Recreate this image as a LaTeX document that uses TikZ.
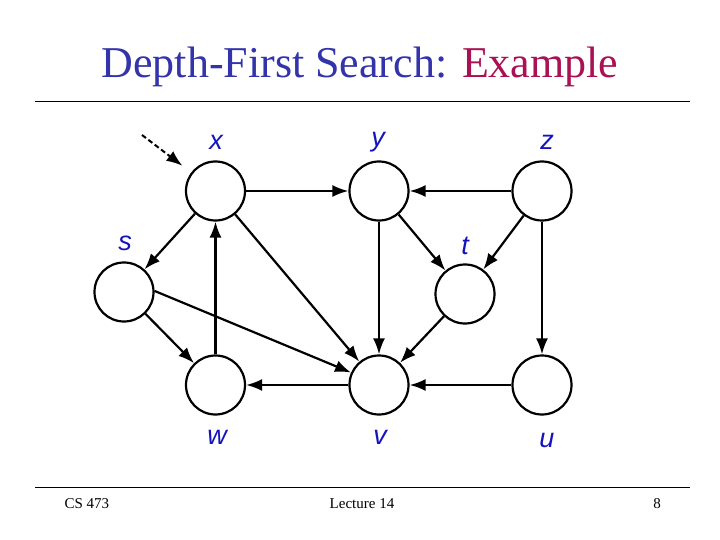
\documentclass[tikz,border=0pt]{standalone}
\usepackage{fontspec}
\setmainfont{Liberation Serif}
\newfontfamily\labelfont{Liberation Sans}
\usetikzlibrary{arrows.meta}
\definecolor{titleblue}{RGB}{51,51,170}
\definecolor{titlered}{RGB}{170,17,85}
\definecolor{labelblue}{RGB}{20,20,190}
\begin{document}
\begin{tikzpicture}[x=1pt, y=-1pt,
    vertex/.style={circle, draw, line width=2.2pt, minimum size=59pt, inner sep=0pt},
    vlabel/.style={font=\labelfont\itshape\fontsize{27}{27}\selectfont, text=labelblue},
    edge/.style={line width=2.2pt, -{Latex[length=16pt,width=12pt]}},
    every node/.style={font=\fontsize{15}{15}\selectfont}]
    \useasboundingbox (0,0) rectangle (720,540);

    % Titel und Linien
    \node[anchor=base, font=\fontsize{44}{44}\selectfont] (title) at (360,78)
        {\textcolor{titleblue}{Depth-First Search:} \textcolor{titlered}{Example}};
    \draw[line width=1pt] (35,102) -- (690,102);
    \draw[line width=1pt] (35,487) -- (690,487);

    % Knoten
    \node[vertex] (x) at (215.5,191) {};
    \node[vertex] (y) at (379,191) {};
    \node[vertex] (z) at (542,191) {};
    \node[vertex] (s) at (124,292) {};
    \node[vertex] (t) at (465,294) {};
    \node[vertex] (w) at (215.5,385) {};
    \node[vertex] (v) at (379,385) {};
    \node[vertex] (u) at (542,385) {};

    % Beschriftungen
    \node[vlabel] (lx) at (216,142) {x};
    \node[vlabel] (ly) at (378,142) {y};
    \node[vlabel] (lz) at (547,142) {z};
    \node[vlabel] (ls) at (125,243) {s};
    \node[vlabel] (lt) at (465,246) {t};
    \node[vlabel] (lw) at (217,437) {w};
    \node[vlabel] (lv) at (380,437) {v};
    \node[vlabel] (lu) at (547,440) {u};

    % Start
    \coordinate (start) at (142,135);
    \draw[line width=2pt, dash pattern=on 5pt off 3pt, -{Latex[length=16pt,width=12pt]},
        shorten >=11pt] (start) -- (x);

    % Kanten
    \draw[edge] (x) -- (y);
    \draw[edge] (z) -- (y);
    \draw[edge] (x) -- (s);
    \draw[edge] (w) -- (x);
    \draw[edge] (x) -- (v);
    \draw[edge] (y) -- (v);
    \draw[edge] (y) -- (t);
    \draw[edge] (z) -- (t);
    \draw[edge] (z) -- (u);
    \draw[edge] (s) -- (w);
    \draw[edge] (s.2) -- (v.156);
    \draw[edge] (t) -- (v);
    \draw[edge] (v) -- (w);
    \draw[edge] (u) -- (v);

    % Fusszeile
    \node[anchor=base west] (course) at (61,508) {CS 473};
    \node[anchor=base] (lecture) at (362,508) {Lecture 14};
    \node[anchor=base] (page) at (657,508) {8};
\end{tikzpicture}
\end{document}
